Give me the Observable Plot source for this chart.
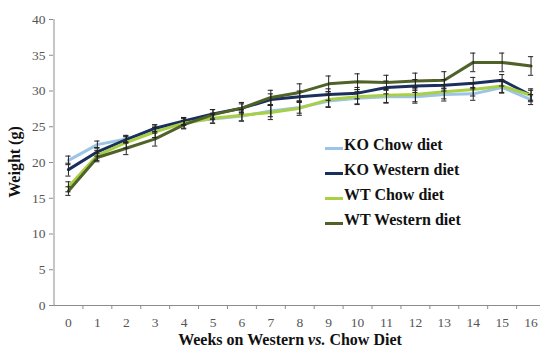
<!DOCTYPE html>
<html><head><meta charset="utf-8">
<script src="https://cdn.jsdelivr.net/npm/d3@7"></script>
<script src="https://cdn.jsdelivr.net/npm/@observablehq/plot@0.6"></script>
<style>
body{margin:0;background:#fff;}
#wrap{position:relative;width:540px;height:350px;font-family:'Liberation Serif',serif;}
.leg{position:absolute;left:325px;font-weight:bold;font-size:16px;color:#111;white-space:nowrap;font-family:'Liberation Serif',serif;}
.leg span.sw{display:inline-block;width:18px;height:3px;vertical-align:baseline;margin-right:1px;}
svg text{font-family:'Liberation Serif',serif !important;}
</style>
</head><body>
<div id="wrap"></div>
<script>
const weeks = [0,1,2,3,4,5,6,7,8,9,10,11,12,13,14,15,16];
const seriesNames = ["KO Chow diet","KO Western diet","WT Chow diet","WT Western diet"];
const seriesColors = ["#9DC3E6","#1B2F5E","#A8CF45","#4F6228"];
const koChow    = [20.3,22.5,23.3,24.5,25.7,26.1,26.5,27.2,27.7,28.6,29.0,29.2,29.2,29.5,29.6,30.5,28.8];
const koWestern = [19.0,21.5,23.2,24.8,25.8,26.8,27.6,28.8,29.2,29.5,29.7,30.5,30.7,30.8,31.1,31.5,29.4];
const wtChow    = [16.6,21.0,22.8,24.3,25.5,26.2,26.6,27.0,27.6,28.8,29.2,29.4,29.5,29.9,30.2,30.7,29.4];
const wtWestern = [16.0,20.7,22.0,23.3,25.3,26.7,27.6,29.1,29.8,31.0,31.3,31.2,31.4,31.5,34.0,34.0,33.5];
const koChowErr    = [0.6,0.5,0.5,0.4,0.5,0.6,0.7,0.8,0.8,0.8,0.9,0.9,0.9,0.9,0.9,0.8,0.7];
const koWesternErr = [0.9,0.6,0.5,0.5,0.5,0.6,0.6,0.8,0.8,0.8,0.8,0.9,0.9,0.8,0.8,0.8,0.7];
const wtChowErr    = [0.7,0.7,0.8,0.8,0.7,0.7,0.8,1.0,1.0,1.1,1.0,1.0,1.0,1.0,0.9,0.9,0.9];
const wtWesternErr = [0.6,0.6,0.9,1.0,0.6,0.7,0.8,1.0,1.2,1.1,1.1,1.0,1.1,1.2,1.3,1.3,1.3];
const xTickLabels = weeks;
const yTicks = [0,5,10,15,20,25,30,35,40];

const vals = [koChow,koWestern,wtChow,wtWestern];
const errs = [koChowErr,koWesternErr,wtChowErr,wtWesternErr];
const data = [];
seriesNames.forEach((s,i)=>weeks.forEach((w,j)=>data.push({series:s,week:w,value:vals[i][j],err:errs[i][j]})));

const grey = "#8c8c8c";
const FONT = "Liberation Serif, serif";
const plot = Plot.plot({
  width:540, height:350,
  marginLeft:53, marginRight:0, marginTop:19, marginBottom:45,
  style:{fontFamily:FONT, fontSize:"13.5px", color:"#555", background:"#fff"},
  x:{domain:[-0.5,16.5], range:[53.5,545]},
  y:{domain:[0,40]},
  color:{domain:seriesNames, range:seriesColors},
  marks:[
    Plot.axisY({ticks:yTicks, tickSize:4, tickPadding:4, stroke:grey, label:null, fill:"#555"}),
    Plot.axisX({ticks:xTickLabels, tickSize:0, tickPadding:12, label:null, fill:"#555"}),
    Plot.axisX({ticks:weeks.map(w=>w+0.5), tickSize:4, text:null, stroke:grey, label:null}),
    Plot.ruleY([0],{stroke:grey}),
    Plot.ruleX([-0.5],{stroke:grey}),
    Plot.line(data,{x:"week",y:"value",z:"series",stroke:"series",strokeWidth:3}),
    Plot.ruleX(data,{x:"week",y1:d=>d.value-d.err,y2:d=>d.value+d.err,stroke:"#222",strokeWidth:1}),
    Plot.ruleY(data,{y:d=>d.value-d.err,x1:d=>d.week-0.09,x2:d=>d.week+0.09,stroke:"#222",strokeWidth:1}),
    Plot.ruleY(data,{y:d=>d.value+d.err,x1:d=>d.week-0.09,x2:d=>d.week+0.09,stroke:"#222",strokeWidth:1})
  ]
});
const wrap = document.getElementById("wrap");
wrap.appendChild(plot);
const svg = d3.select(plot);
svg.append("text").attr("x",290).attr("y",345).attr("text-anchor","middle")
  .attr("font-weight","bold").attr("font-size","16px").attr("fill","#111")
  .call(t=>{t.append("tspan").text("Weeks on Western ");t.append("tspan").attr("font-style","italic").text("vs.");t.append("tspan").text(" Chow Diet");});
svg.append("text").attr("transform","translate(20,162) rotate(-90)").attr("text-anchor","middle")
  .attr("font-weight","bold").attr("font-size","16px").attr("fill","#111").text("Weight (g)");
svg.selectAll("text").attr("font-family",FONT);
seriesNames.forEach((s,i)=>{
  const d=document.createElement("div");
  d.className="leg"; d.style.top=(136+i*25)+"px";
  d.innerHTML='<span class="sw" style="background:'+seriesColors[i]+'"></span>'+s;
  wrap.appendChild(d);
});
</script>
</body></html>
